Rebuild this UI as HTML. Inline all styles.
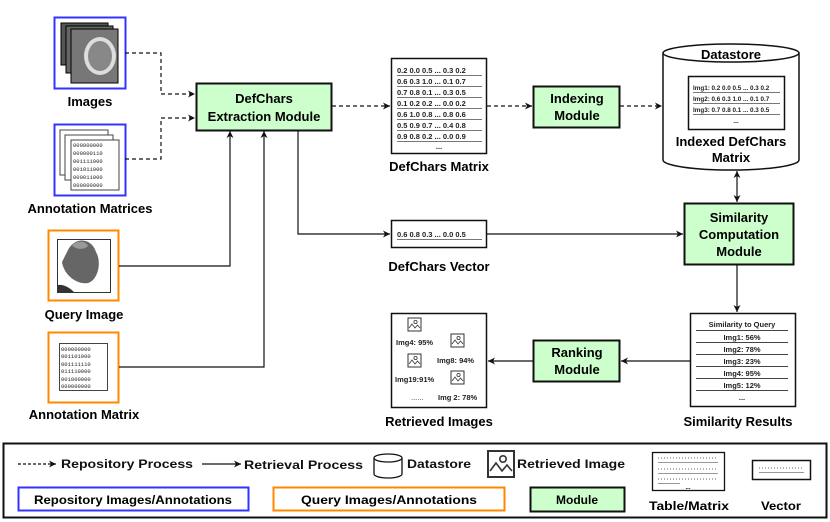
<!DOCTYPE html>
<html><head><meta charset="utf-8"><style>
html,body{margin:0;padding:0;background:#fff;}
svg{display:block;font-family:"Liberation Sans",Arial,sans-serif;font-weight:bold;}
</style></head><body>
<svg width="830" height="522" viewBox="0 0 830 522" xmlns="http://www.w3.org/2000/svg">
<defs>
<marker id="a" markerWidth="8" markerHeight="8" refX="7" refY="4" orient="auto" markerUnits="userSpaceOnUse"><path d="M0,0.5 L7,4 L0,7.5 L2,4 Z" fill="#111"/></marker>
<marker id="as" markerWidth="8" markerHeight="8" refX="1" refY="4" orient="auto" markerUnits="userSpaceOnUse"><path d="M8,0.5 L1,4 L8,7.5 L6,4 Z" fill="#111"/></marker>
<g id="pic"><rect x="0" y="0" width="13" height="13" fill="#fff" stroke="#333" stroke-width="1"/><circle cx="7.5" cy="4" r="1.6" fill="none" stroke="#333" stroke-width="0.8"/><path d="M1,10 L4,6 L7,10 L9.5,7 L12,10" fill="none" stroke="#333" stroke-width="0.8"/></g>
</defs>

<!-- Images -->
<rect x="54.5" y="17.5" width="71" height="71" fill="#fff" stroke="#3333ff" stroke-width="2"/>
<rect x="61" y="23" width="47" height="42" fill="#555" stroke="#000"/>
<rect x="66" y="26" width="47" height="47" fill="#666" stroke="#000"/>
<rect x="71" y="29" width="47" height="54" fill="#777" stroke="#000"/>
<ellipse cx="100" cy="56" rx="16" ry="19" fill="#ddd"/>
<ellipse cx="100" cy="56" rx="12" ry="15" fill="#888"/>
<text x="90" y="106" font-size="13" text-anchor="middle">Images</text>

<!-- Annotation matrices -->
<rect x="54.5" y="124.5" width="71" height="71" fill="#fff" stroke="#3333ff" stroke-width="2"/>
<rect x="60" y="130" width="48" height="45" fill="#fff" stroke="#444"/>
<rect x="65" y="135" width="48" height="45" fill="#fff" stroke="#444"/>
<rect x="71" y="140" width="48" height="50" fill="#fff" stroke="#444"/>
<g font-size="5.5" font-weight="normal" fill="#222" font-family="Liberation Mono,monospace">
<text x="73" y="147">000000000</text><text x="73" y="155">000000110</text><text x="73" y="163">001111000</text><text x="73" y="171">001011000</text><text x="73" y="179">000011000</text><text x="73" y="187">000000000</text>
</g>
<text x="90" y="213" font-size="13" text-anchor="middle">Annotation Matrices</text>

<!-- Query image -->
<rect x="48.5" y="230.5" width="70" height="70" fill="#fff" stroke="#ff8800" stroke-width="2"/>
<rect x="57.5" y="239.5" width="53" height="53" fill="#fff" stroke="#333"/>
<path d="M68,250 C75,236 92,238 96,252 C102,262 98,280 88,283 C78,285 64,276 62,262 Z" fill="#666"/>
<path d="M72,245 C78,240 86,241 88,246 C84,250 76,250 72,245 Z" fill="#999"/>
<path d="M58,292 L58,285 C64,284 70,288 74,292 Z" fill="#333"/>
<text x="84" y="319" font-size="13" text-anchor="middle">Query Image</text>

<!-- Annotation matrix -->
<rect x="48.5" y="332.5" width="70" height="70" fill="#fff" stroke="#ff8800" stroke-width="2"/>
<rect x="59.5" y="343.5" width="48" height="47" fill="#fff" stroke="#444"/>
<g font-size="5.5" font-weight="normal" fill="#222" font-family="Liberation Mono,monospace">
<text x="61" y="351">000000000</text><text x="61" y="358">001101000</text><text x="61" y="366">001111110</text><text x="61" y="373">011110000</text><text x="61" y="381">001000000</text><text x="61" y="388">000000000</text>
</g>
<text x="84" y="419" font-size="13" text-anchor="middle">Annotation Matrix</text>

<!-- connectors -->
<g fill="none" stroke="#111" stroke-width="1.2">
<path d="M125,53 H161 V94 H195" stroke-dasharray="4,3" marker-end="url(#a)"/>
<path d="M125,159 H161 V118 H195" stroke-dasharray="4,3" marker-end="url(#a)"/>
<path d="M119,266 H230 V131" marker-end="url(#a)"/>
<path d="M119,367 H264 V131" marker-end="url(#a)"/>
<path d="M332,106 H390" stroke-dasharray="4,3" marker-end="url(#a)"/>
<path d="M298,130 V234 H390" marker-end="url(#a)"/>
<path d="M487,106 H532" stroke-dasharray="4,3" marker-end="url(#a)"/>
<path d="M620,106 H662" stroke-dasharray="4,3" marker-end="url(#a)"/>
<path d="M487,234 H683" marker-end="url(#a)"/>
<path d="M737,171 V202" marker-start="url(#as)" marker-end="url(#a)"/>
<path d="M737,265 V312" marker-end="url(#a)"/>
<path d="M690,361 H621" marker-end="url(#a)"/>
<path d="M533,361 H488" marker-end="url(#a)"/>
</g>

<!-- Extraction module -->
<rect x="196.5" y="83.5" width="135" height="47" fill="#ccffcc" stroke="#111" stroke-width="2"/>
<text x="264" y="103" font-size="13" text-anchor="middle">DefChars</text>
<text x="264" y="121" font-size="13" text-anchor="middle">Extraction Module</text>

<!-- DefChars Matrix -->
<rect x="391.5" y="58.5" width="95" height="95" fill="#fff" stroke="#111" stroke-width="1.5"/>
<g font-size="7.5" fill="#222">
<text x="397" y="73">0.2 0.0 0.5 ... 0.3 0.2</text>
<text x="397" y="84">0.6 0.3 1.0 ... 0.1 0.7</text>
<text x="397" y="95">0.7 0.8 0.1 ... 0.3 0.5</text>
<text x="397" y="106">0.1 0.2 0.2 ... 0.0 0.2</text>
<text x="397" y="117">0.6 1.0 0.8 ... 0.8 0.6</text>
<text x="397" y="128">0.5 0.9 0.7 ... 0.4 0.8</text>
<text x="397" y="139">0.9 0.8 0.2 ... 0.0 0.9</text>
<text x="439" y="149" text-anchor="middle">...</text>
</g>
<g stroke="#777" stroke-width="1"><path d="M397,75.5H482M397,86.5H482M397,97.5H482M397,108.5H482M397,119.5H482M397,130.5H482M397,141.5H482"/></g>
<text x="439" y="171" font-size="13" text-anchor="middle">DefChars Matrix</text>

<!-- Indexing -->
<rect x="533.5" y="86.5" width="86" height="41" fill="#ccffcc" stroke="#111" stroke-width="2"/>
<text x="577" y="103" font-size="13" text-anchor="middle">Indexing</text>
<text x="577" y="120" font-size="13" text-anchor="middle">Module</text>

<!-- Datastore -->
<path d="M663,53 V160 A68,10 0 0 0 799,160 V53" fill="#fff" stroke="#111" stroke-width="1.5"/>
<ellipse cx="731" cy="53" rx="68" ry="9" fill="#fff" stroke="#111" stroke-width="1.5"/>
<text x="731" y="59" font-size="13" text-anchor="middle">Datastore</text>
<rect x="688.5" y="76.5" width="96" height="53" fill="#fff" stroke="#111" stroke-width="1.5"/>
<g font-size="6.3" fill="#222">
<text x="693" y="90">Img1: 0.2 0.0 0.5 ... 0.3 0.2</text>
<text x="693" y="101">Img2: 0.6 0.3 1.0 ... 0.1 0.7</text>
<text x="693" y="112">Img3: 0.7 0.8 0.1 ... 0.3 0.5</text>
<text x="736" y="123" text-anchor="middle">...</text>
</g>
<g stroke="#777"><path d="M693,92.5H780M693,103.5H780M693,114.5H780"/></g>
<text x="731" y="146" font-size="13" text-anchor="middle">Indexed DefChars</text>
<text x="731" y="162" font-size="13" text-anchor="middle">Matrix</text>

<!-- Similarity module -->
<rect x="684.5" y="203.5" width="109" height="61" fill="#ccffcc" stroke="#111" stroke-width="2"/>
<text x="739" y="222" font-size="13" text-anchor="middle">Similarity</text>
<text x="739" y="239" font-size="13" text-anchor="middle">Computation</text>
<text x="739" y="256" font-size="13" text-anchor="middle">Module</text>

<!-- DefChars Vector -->
<rect x="391.5" y="220.5" width="95" height="27" fill="#fff" stroke="#111" stroke-width="1.5"/>
<text x="397" y="237" font-size="7.5" fill="#222">0.6 0.8 0.3 ... 0.0 0.5</text>
<path d="M397,239.5H482" stroke="#777"/>
<text x="439" y="271" font-size="13" text-anchor="middle">DefChars Vector</text>

<!-- Similarity Results -->
<rect x="690.5" y="313.5" width="105" height="93" fill="#fff" stroke="#111" stroke-width="1.5"/>
<g font-size="7.5" fill="#222" text-anchor="middle">
<text x="742" y="327">Similarity to Query</text>
<text x="742" y="340">Img1: 56%</text>
<text x="742" y="352">Img2: 78%</text>
<text x="742" y="364">Img3: 23%</text>
<text x="742" y="376">Img4: 95%</text>
<text x="742" y="388">Img5: 12%</text>
<text x="742" y="400">...</text>
</g>
<g stroke="#444"><path d="M696,330.5H788M696,342.5H788M696,354.5H788M696,366.5H788M696,378.5H788M696,390.5H788"/></g>
<text x="738" y="426" font-size="13" text-anchor="middle">Similarity Results</text>

<!-- Ranking -->
<rect x="533.5" y="340.5" width="86" height="41" fill="#ccffcc" stroke="#111" stroke-width="2"/>
<text x="577" y="357" font-size="13" text-anchor="middle">Ranking</text>
<text x="577" y="374" font-size="13" text-anchor="middle">Module</text>

<!-- Retrieved Images -->
<rect x="391.5" y="313.5" width="95" height="94" fill="#fff" stroke="#111" stroke-width="1.5"/>
<use href="#pic" x="408" y="318"/>
<use href="#pic" x="451" y="334"/>
<use href="#pic" x="408" y="354"/>
<use href="#pic" x="451" y="371"/>
<g font-size="7.5" fill="#222">
<text x="396" y="345">Img4: 95%</text>
<text x="437" y="363">Img8: 94%</text>
<text x="395" y="382">Img19:91%</text>
<text x="438" y="400">Img 2: 78%</text>
<text x="411" y="400" font-weight="normal">......</text>
</g>
<text x="439" y="426" font-size="13" text-anchor="middle">Retrieved Images</text>

<!-- Legend -->
<rect x="3.5" y="443.5" width="823" height="74" fill="#fff" stroke="#111" stroke-width="2"/>
<g fill="none" stroke="#111" stroke-width="1.2">
<path d="M18,464 H56" stroke-dasharray="3,2" marker-end="url(#a)"/>
<path d="M202,464 H241" marker-end="url(#a)"/>
</g>
<g font-size="12" fill="#111">
<text x="61" y="468" textLength="132" lengthAdjust="spacingAndGlyphs">Repository Process</text>
<text x="244" y="469" textLength="119" lengthAdjust="spacingAndGlyphs">Retrieval Process</text>
<text x="407" y="468" textLength="64" lengthAdjust="spacingAndGlyphs">Datastore</text>
<text x="517" y="468" textLength="108" lengthAdjust="spacingAndGlyphs">Retrieved Image</text>
</g>
<path d="M374,458 V474 A14,4 0 0 0 402,474 V458" fill="#fff" stroke="#111" stroke-width="1.3"/>
<ellipse cx="388" cy="458" rx="14" ry="4" fill="#fff" stroke="#111" stroke-width="1.3"/>
<g transform="translate(488,451) scale(2)"><use href="#pic"/></g>
<rect x="652.5" y="452.5" width="72" height="38" fill="#fff" stroke="#111" stroke-width="1.3"/>
<g stroke="#666" stroke-dasharray="1,2"><path d="M658,458H718M658,469H718M658,479H718"/></g>
<g stroke="#999"><path d="M658,462.5H718M658,473.5H718M658,483.5H680"/></g>
<text x="688" y="489" font-size="6" text-anchor="middle">...</text>
<text x="689" y="510" font-size="12" text-anchor="middle" textLength="80" lengthAdjust="spacingAndGlyphs">Table/Matrix</text>
<rect x="752.5" y="460.5" width="58" height="19" fill="#fff" stroke="#111" stroke-width="1.5"/>
<path d="M759,468H804" stroke="#666" stroke-dasharray="1,2"/>
<path d="M759,472.5H804" stroke="#999"/>
<text x="781" y="510" font-size="12" text-anchor="middle" textLength="40" lengthAdjust="spacingAndGlyphs">Vector</text>
<rect x="18.5" y="487.5" width="230" height="23" fill="#fff" stroke="#3333ff" stroke-width="2"/>
<text x="133" y="504" font-size="12" text-anchor="middle" textLength="198" lengthAdjust="spacingAndGlyphs">Repository Images/Annotations</text>
<rect x="273.5" y="487.5" width="231" height="23" fill="#fff" stroke="#ff8800" stroke-width="2"/>
<text x="389" y="504" font-size="12" text-anchor="middle" textLength="176" lengthAdjust="spacingAndGlyphs">Query Images/Annotations</text>
<rect x="530.5" y="487.5" width="94" height="24" fill="#ccffcc" stroke="#111" stroke-width="2"/>
<text x="577" y="504" font-size="12" text-anchor="middle">Module</text>
</svg>
</body></html>
